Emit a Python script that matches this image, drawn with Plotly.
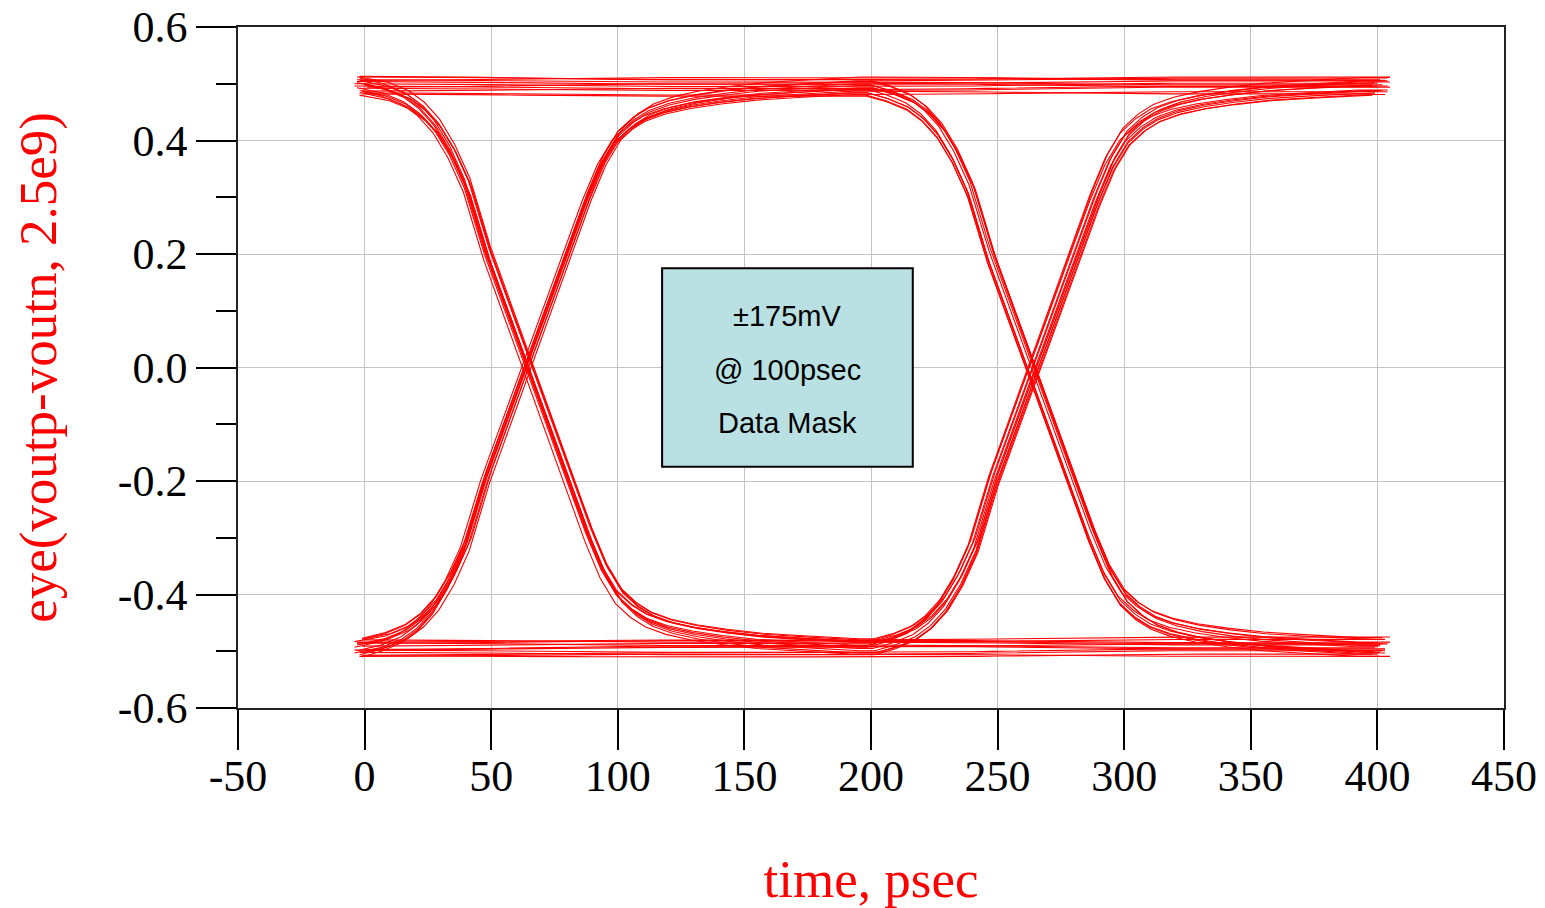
import plotly.graph_objects as go

# ---------------- data ----------------
# Eye crossing times (ps)
CROSS = [64, 264]
# Edge shape: time relative to crossing (ps) and fraction of the level change completed
EDGE_DT = [-64, -56, -48, -42, -36, -30, -24, -16, -8, 0, 8, 16, 24, 30, 36, 42, 48, 56,
           66, 78, 92, 110, 130]
EDGE_P = [0.0, 0.01, 0.025, 0.045, 0.075, 0.12, 0.18, 0.30, 0.40, 0.50, 0.60, 0.70, 0.80,
          0.865, 0.91, 0.935, 0.952, 0.965, 0.975, 0.983, 0.99, 0.995, 1.0]
# Nominal logic levels (mV)
LEVEL_H = 495
LEVEL_L = -493
# Bit patterns of each captured trace (bit before first crossing, between, after second)
PATTERNS = ["HHH", "HHL", "HLH", "HLL", "LHH", "LHL", "LLH", "LLL",
            "HHH", "HHL", "HLH", "HLL", "LHH", "LHL", "LLH", "LLL",
            "HHH", "HHL", "HLH", "HLL", "LHH", "LHL", "LLH", "LLL",
            "HHH", "HHL", "HLH", "HLL", "LHH", "LHL", "LLH", "LLL",
            "HHH", "HHL", "HLH", "HLL", "LHH", "LHL", "LLH", "LLL",
            "HHH", "HHL", "HLH", "HLL", "LHH", "LHL", "LLH", "LLL"]
# Per-bit level deviations of each trace (mV)
OFF_B0 = [12, -8, 15, 3, -10, 6, -14, 9, -3, 18, -12, 7, 14, -6, 2, -16,
          5, -11, 10, -2, 16, -9, 8, -15, 11, 1, -7, 17, -13, 4, -5, 13,
          -1, 9, -15, 6, 0, 14, -9, -4, 17, -13, 3, -7, 10, -17, 7, -5]
OFF_B1 = [8, -3, 11, 9, -14, 2, -9, 13, -7, 12, -6, 1, 17, -11, 7, -12,
          0, -15, 15, 4, 10, -4, 3, -17, 16, -4, -2, 13, -8, -2, 0, 9,
          5, 4, -10, 11, -5, 9, -13, 2, 12, -17, 8, -12, 5, -11, 12, -9]
OFF_B2 = [3, -8, 16, 4, -9, 7, -14, 8, -1, 17, -11, 6, 12, -6, 2, -16,
          6, -10, 10, -1, 15, -9, 8, -12, 11, 1, -7, 18, -13, 3, -6, 14,
          0, 9, -15, 6, 1, 14, -8, -3, 17, -12, 3, -6, 10, -16, 7, -3]
# Edge timing jitter of each trace (ps)
JITTER = [-1.8, 1.0, -0.5, 2.0, -1.2, 0.4, 2.3, -2.2, 0.7, -1.1, 1.5, -0.2, 2.1, -1.6, 0.1, -0.8,
          1.7, -2.0, 1.1, -0.6, 0.2, 1.3, -1.5, 2.2, -0.1, -2.3, 0.6, 1.6, -1.0, 0.9, -1.7, 1.2,
          0.5, -1.3, 1.8, -0.7, -2.1, 0.0, 1.4, -0.4, 1.0, -1.8, 1.9, -1.0, 0.3, -1.4, 2.2, -0.5]
# First and last sample time of each trace (ps)
T_START = [-3, 0, -2, 0, -4, -1, -1, -3, -2, -2, 0, -3, -1, -3, -1, -2,
           -4, -2, -1, -3, -1, 0, -3, -1, -2, -4, -1, -2, -2, -3, -4, 0,
           1, -3, -2, 0, -4, -1, -2, 1, -3, -1, 0, -2, -4, -1, -3, 0]
T_END = [402, 399, 405, 401, 404, 398, 403, 400, 405, 402, 399, 404, 401, 403, 398, 405,
         400, 403, 402, 399, 404, 401, 405, 398, 403, 400, 402, 405, 399, 401, 404, 403,
         400, 405, 398, 402, 404, 399, 401, 403, 405, 400, 398, 402, 404, 401, 399, 403]

# Data-mask annotation
MASK_T = [117.5, 216.5]          # ps
MASK_V = [-0.175, 0.175]         # V
MASK_LINES = ["±175mV", "@ 100psec", "Data Mask"]
MASK_LINE_Y = [0.09, -0.004, -0.097]

X_TICKS = [-50, 0, 50, 100, 150, 200, 250, 300, 350, 400, 450]
Y_TICKS = [-0.6, -0.4, -0.2, 0.0, 0.2, 0.4, 0.6]
Y_TICK_TEXT = ["-0.6", "-0.4", "-0.2", "0.0", "0.2", "0.4", "0.6"]
Y_MINOR = [-0.5, -0.3, -0.1, 0.1, 0.3, 0.5]

# ---------------- build figure ----------------
def level(bit):
    return LEVEL_H if bit == "H" else LEVEL_L

fig = go.Figure()
for i, pat in enumerate(PATTERNS):
    offs = [OFF_B0[i], OFF_B1[i], OFF_B2[i]]
    lv = [(level(pat[k]) + offs[k]) / 1000.0 for k in range(3)]
    ts = [T_START[i]]
    vs = [lv[0]]
    for k, tc in enumerate(CROSS):
        la, lb = lv[k], lv[k + 1]
        for j, (dt, p) in enumerate(zip(EDGE_DT, EDGE_P)):
            if k == 0 and j == 0:
                continue
            ts.append(tc + JITTER[i] + dt)
            vs.append(la + (lb - la) * p)
    ts.append(T_END[i])
    vs.append(lv[2])
    fig.add_trace(go.Scatter(x=ts, y=vs, mode="lines",
                             line=dict(color="#ff0000", width=1.1),
                             showlegend=False, hoverinfo="skip"))

fig.add_shape(type="rect", xref="x", yref="y",
              x0=MASK_T[0], x1=MASK_T[1], y0=MASK_V[0], y1=MASK_V[1],
              fillcolor="#b9e0e3", line=dict(color="black", width=2), layer="above")
for txt, yy in zip(MASK_LINES, MASK_LINE_Y):
    fig.add_annotation(x=(MASK_T[0] + MASK_T[1]) / 2, y=yy, xref="x", yref="y",
                       text=txt, showarrow=False,
                       font=dict(family="Liberation Sans, Arial", size=29, color="black"))

serif = "Liberation Serif, Times New Roman, serif"
fig.update_layout(
    width=1545, height=908,
    margin=dict(l=238, r=41, t=27, b=200),
    paper_bgcolor="white", plot_bgcolor="white",
    xaxis=dict(
        range=[-50, 450], tickmode="array", tickvals=X_TICKS,
        ticktext=[str(v) for v in X_TICKS], automargin=False,
        ticklabeloverflow="allow",
        ticks="outside", ticklen=40, tickwidth=1.5, tickcolor="black",
        ticklabelstandoff=-12,
        showline=True, linecolor="#222222", linewidth=1.5, mirror=True,
        showgrid=True, gridcolor="#c4c4c4", gridwidth=1, zeroline=False,
        tickfont=dict(family=serif, size=44, color="black"),
        title=dict(text="time, psec", font=dict(family=serif, size=53, color="red"), standoff=64),
    ),
    yaxis=dict(
        range=[-0.6, 0.6], tickmode="array", tickvals=Y_TICKS, ticktext=Y_TICK_TEXT,
        automargin=False, ticklabeloverflow="allow",
        ticks="outside", ticklen=40, tickwidth=1.5, tickcolor="black",
        minor=dict(tickmode="array", tickvals=Y_MINOR, ticks="outside", ticklen=20,
                   tickwidth=1.5, tickcolor="black", showgrid=False),
        showline=True, linecolor="#222222", linewidth=1.5, mirror=True,
        showgrid=True, gridcolor="#c4c4c4", gridwidth=1, zeroline=False,
        tickfont=dict(family=serif, size=44, color="black"),
        title=dict(text="eye(voutp-voutn, 2.5e9)", font=dict(family=serif, size=53, color="red"), standoff=44),
    ),
)
# remove the browser's default 8px body margin so the figure fills the window exactly
fig.write_html("out.html", config={"displayModeBar": False},
               post_script="document.body.style.margin='0';")
